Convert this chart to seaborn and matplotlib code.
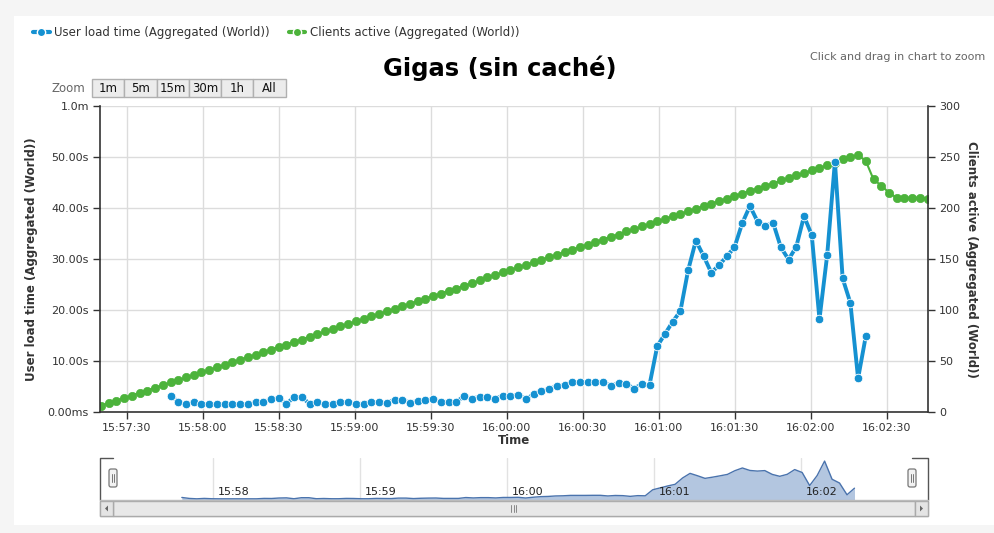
import pandas as pd
import matplotlib
matplotlib.use("Agg")
import matplotlib.pyplot as plt
import matplotlib.dates as mdates
from matplotlib.lines import Line2D
from matplotlib.patches import Rectangle, FancyBboxPatch, Polygon
import seaborn as sns

# --- data (one sample roughly every 3 s) ---
START = "2014-03-10 15:57:19.850"
STEP = "3050ms"

clients_active = [
    6, 9, 11, 14, 16, 19, 21, 24, 26, 29,
    31, 34, 36, 39, 41, 44, 46, 49, 51, 54,
    56, 59, 61, 64, 66, 69, 71, 74, 76, 79,
    81, 84, 86, 89, 91, 94, 96, 99, 101, 104,
    106, 109, 111, 114, 116, 119, 121, 124, 126, 129,
    132, 134, 137, 139, 142, 144, 147, 149, 152, 154,
    157, 159, 162, 164, 167, 169, 172, 174, 177, 179,
    182, 184, 187, 189, 192, 194, 197, 199, 202, 204,
    207, 209, 212, 214, 217, 219, 222, 224, 227, 229,
    232, 234, 237, 239, 242, 244, 248, 250, 252, 246,
    228, 222, 215, 210, 210, 210, 210, 209,
]

# user load time in seconds, starts at the 10th sample
LOAD_FIRST = 9
load_time_s = [
    3.2, 2.0, 1.5, 2.0, 1.6, 1.5, 1.5, 1.5, 1.5, 1.5, 1.5,
    2.0, 1.9, 2.5, 2.7, 1.6, 2.9, 2.9, 1.6, 1.9, 1.6,
    1.6, 2.0, 1.9, 1.6, 1.6, 2.0, 1.9, 1.8, 2.4, 2.4,
    1.8, 2.2, 2.4, 2.5, 2.0, 2.0, 2.0, 3.1, 2.6, 3.0,
    3.0, 2.6, 3.2, 3.2, 3.4, 2.5, 3.5, 4.2, 4.5, 5.1,
    5.3, 5.8, 5.8, 5.8, 5.9, 5.9, 5.1, 5.7, 5.5, 4.6,
    5.5, 5.3, 12.9, 15.3, 17.7, 19.8, 27.8, 33.6, 30.6, 27.3,
    28.8, 30.5, 32.3, 37.0, 40.4, 37.3, 36.5, 37.1, 32.3, 29.9,
    32.4, 38.4, 34.7, 18.2, 30.8, 49.1, 26.2, 21.4, 6.6, 14.9,
]

TITLE = "Gigas (sin caché)"
LOAD_NAME = "User load time (Aggregated (World))"
CLIENTS_NAME = "Clients active (Aggregated (World))"
left_ticks = [0, 10, 20, 30, 40, 50, 60]
left_tick_labels = ["0.00ms", "10.00s", "20.00s", "30.00s", "40.00s", "50.00s", "1.0m"]
right_ticks = [0, 50, 100, 150, 200, 250, 300]
zoom_buttons = ["1m", "5m", "15m", "30m", "1h", "All"]

X_MIN, X_MAX = "2014-03-10 15:57:19.45", "2014-03-10 16:02:46.35"
NAV_MIN, NAV_MAX = "2014-03-10 15:57:13.9", "2014-03-10 16:02:51.8"

BLUE = "#1591d1"
GREEN = "#4cb33b"
TXT = "#333333"

times = pd.date_range(START, periods=len(clients_active), freq=STEP)
df_clients = pd.DataFrame({"time": times, "clients": clients_active})
df_load = pd.DataFrame({"time": times[LOAD_FIRST:LOAD_FIRST + len(load_time_s)],
                        "load": load_time_s})

sns.set_style("white")
plt.rcParams["font.family"] = ["DejaVu Sans"]

W, H = 994, 533
fig = plt.figure(figsize=(W / 100, H / 100), dpi=100)
fig.patch.set_facecolor("#f5f5f5")


def px_axes(x0, y0, x1, y1):
    return fig.add_axes([x0 / W, 1 - y1 / H, (x1 - x0) / W, (y1 - y0) / H])


def px_overlay():
    o = fig.add_axes([0, 0, 1, 1])
    o.set_xlim(0, W)
    o.set_ylim(H, 0)
    o.axis("off")
    return o


# background overlay in pixel coordinates for the page chrome
ov = px_overlay()
ov.add_patch(Rectangle((14, 16), W - 14, 509, fc="white", ec="none"))

ov.text(500, 68, TITLE, ha="center", va="center", fontsize=17.5, fontweight="bold", color="black")
ov.text(985, 57, "Click and drag in chart to zoom", ha="right", va="center", fontsize=8, color="#666666")

# range selector buttons
ov.text(52, 89, "Zoom", ha="left", va="center", fontsize=8.5, color="#666666")
edges = [92, 124, 157, 189, 221, 253, 286]
for i, lab in enumerate(zoom_buttons):
    ov.add_patch(Rectangle((edges[i], 79), edges[i + 1] - edges[i], 18,
                           fc="#ececec", ec="#b0b0b0", lw=1))
    ov.text((edges[i] + edges[i + 1]) / 2, 88.5, lab, ha="center", va="center",
            fontsize=8.5, color="#111111")

# --- main chart ---
ax = px_axes(100, 106, 928, 412)
ax2 = ax.twinx()
ax.set_zorder(ax2.get_zorder() + 1)
ax.patch.set_visible(False)
ax2.patch.set_visible(True)
ax2.patch.set_facecolor("white")

sns.lineplot(data=df_clients, x="time", y="clients", ax=ax2, color=GREEN, lw=1.5,
             marker="o", markersize=6, markeredgecolor=GREEN, markeredgewidth=0.5)
sns.lineplot(data=df_load, x="time", y="load", ax=ax, color=BLUE, lw=2.8,
             marker="o", markersize=6.2, markeredgecolor="white", markeredgewidth=0.6)

ax.set_xlim(pd.Timestamp(X_MIN), pd.Timestamp(X_MAX))
ax.set_ylim(0, 60)
ax2.set_ylim(0, 300)
ax.xaxis.set_major_locator(mdates.SecondLocator(bysecond=[0, 30]))
ax.xaxis.set_major_formatter(mdates.DateFormatter("%H:%M:%S"))
ax.set_yticks(left_ticks)
ax.set_yticklabels(left_tick_labels)
ax2.set_yticks(right_ticks)

ax2.xaxis.set_visible(True)
ax2.set_xlabel("")
ax2.grid(True, axis="both", color="#dcdcdc", lw=1)
ax2.tick_params(axis="x", bottom=False, top=False, labelbottom=False, labeltop=False)

ax.tick_params(axis="both", direction="out", length=5, width=1, color=TXT,
               labelsize=8, labelcolor=TXT, left=True, bottom=True, pad=3)
ax2.tick_params(axis="y", direction="out", length=5, width=1, color=TXT,
                labelsize=8, labelcolor=TXT, right=True, pad=3)

for s in ["top", "right"]:
    ax.spines[s].set_visible(False)
for s in ["left", "bottom"]:
    ax.spines[s].set_color(TXT)
    ax.spines[s].set_linewidth(1.2)
for s in ["top", "left", "bottom"]:
    ax2.spines[s].set_visible(False)
ax2.spines["right"].set_color(TXT)
ax2.spines["right"].set_linewidth(1.2)

ax.set_ylabel(LOAD_NAME, fontsize=8.5, fontweight="bold", color=TXT)
ax.yaxis.set_label_coords(-0.075, 0.5)
ax2.set_ylabel(CLIENTS_NAME, fontsize=8.5, fontweight="bold", color=TXT, rotation=270, va="center")
ax2.yaxis.set_label_coords(1.053, 0.5)
ax.set_xlabel("Time", fontsize=8.5, fontweight="bold", color=TXT)
ax.xaxis.set_label_coords(0.5, -0.072)

# legend
handles = [
    Line2D([0], [0], color=BLUE, lw=3, marker="o", markersize=6, markeredgecolor="white"),
    Line2D([0], [0], color=GREEN, lw=3, marker="o", markersize=6, markeredgecolor="white"),
]
fig.legend(handles, [LOAD_NAME, CLIENTS_NAME], loc="upper left", bbox_to_anchor=(33 / W, 1 - 26 / H),
           ncol=2, frameon=False, fontsize=8.5, handlelength=1.4, handletextpad=0.4,
           columnspacing=1.6, labelcolor=TXT, borderaxespad=0, borderpad=0)

# --- navigator ---
nav = px_axes(100, 458, 928, 500)
nav.patch.set_visible(False)
nav.fill_between(df_load["time"], df_load["load"], 0, color="#b3c6e0", lw=0)
sns.lineplot(data=df_load, x="time", y="load", ax=nav, color="#4a73ad", lw=1)
nav.set_xlim(pd.Timestamp(NAV_MIN), pd.Timestamp(NAV_MAX))
nav.set_ylim(0, 53)
nav.xaxis.set_major_locator(mdates.MinuteLocator())
nav.grid(True, axis="x", color="#e2e2e2", lw=1)
nav.set_yticks([])
nav.tick_params(axis="x", bottom=False, labelbottom=False)
nav.set_xlabel("")
nav.set_ylabel("")
for s in nav.spines.values():
    s.set_visible(False)
for m in pd.date_range("2014-03-10 15:58", "2014-03-10 16:02", freq="1min"):
    nav.text(m + pd.Timedelta(seconds=2), 0.06, m.strftime("%H:%M"), transform=nav.get_xaxis_transform(),
             ha="left", va="bottom", fontsize=8, color="#222222")

# top overlay: navigator outline, handles and scrollbar
top = px_overlay()
top.plot([100, 100, 113], [500, 458, 458], color="#555555", lw=1)
top.plot([912, 928, 928], [458, 458, 500], color="#555555", lw=1)
for hx in (113, 912):
    top.add_patch(FancyBboxPatch((hx - 4, 469), 8, 18, boxstyle="round,pad=0,rounding_size=2",
                                 fc="#f2f2f2", ec="#777777", lw=0.9))
    top.plot([hx - 1.2, hx - 1.2], [474, 482], color="#777777", lw=0.7)
    top.plot([hx + 1.2, hx + 1.2], [474, 482], color="#777777", lw=0.7)

top.add_patch(Rectangle((100, 501), 828, 15, fc="#eeeeee", ec="#bbbbbb", lw=1))
top.add_patch(Rectangle((113, 501), 802, 15, fc="#e8e8e8", ec="#aaaaaa", lw=1))
top.add_patch(Rectangle((100, 501), 13, 15, fc="#e4e4e4", ec="#aaaaaa", lw=1))
top.add_patch(Rectangle((915, 501), 13, 15, fc="#e4e4e4", ec="#aaaaaa", lw=1))
top.add_patch(Polygon([[108, 505.5], [108, 511.5], [105, 508.5]], fc="#666666", ec="none"))
top.add_patch(Polygon([[920, 505.5], [920, 511.5], [923, 508.5]], fc="#666666", ec="none"))
for gx in (511, 513.5, 516):
    top.plot([gx, gx], [505, 512], color="#888888", lw=0.7)
top.plot([100, 928], [500, 500], color="#bbbbbb", lw=1)

fig.savefig("out.png", dpi=100, facecolor=fig.get_facecolor())
